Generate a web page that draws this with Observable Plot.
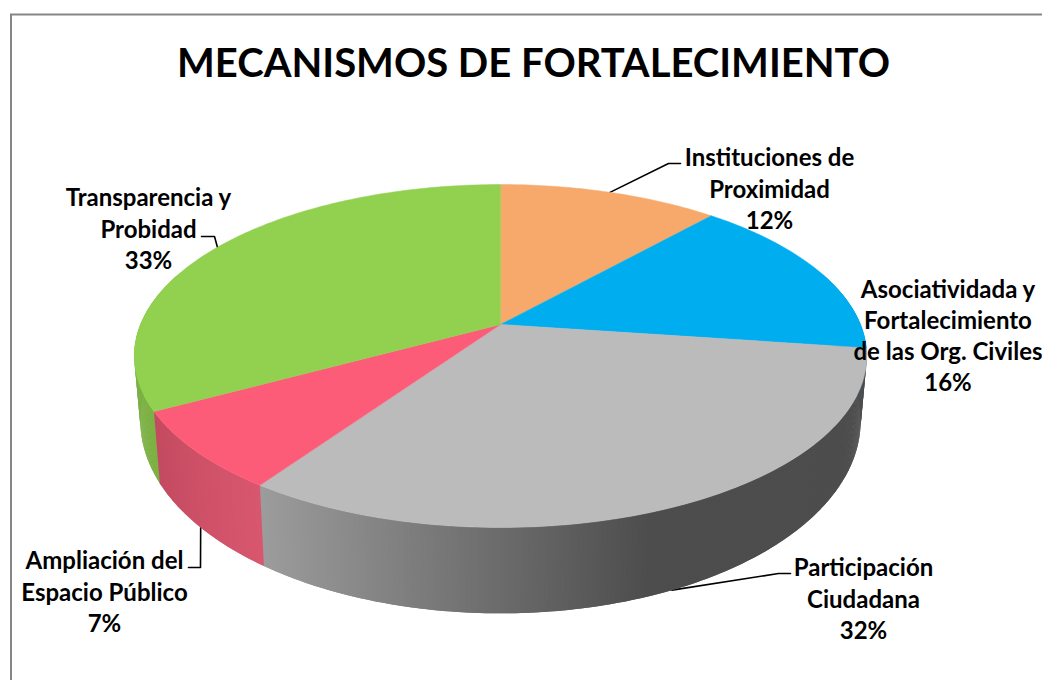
<!DOCTYPE html>
<html lang="es">
<head>
<meta charset="utf-8">
<script src="https://cdn.jsdelivr.net/npm/d3@7"></script>
<script src="https://cdn.jsdelivr.net/npm/@observablehq/plot@0.6"></script>
<style>html,body{margin:0;padding:0;background:#fff;overflow:hidden}svg{display:block}</style>
</head>
<body>
<div id="chart"></div>
<script>
// Data
const categories = ["Instituciones de\nProximidad", "Asociatividada y\nFortalecimiento\nde las Org. Civiles", "Participación\nCiudadana", "Ampliación del\nEspacio Público", "Transparencia y\nProbidad"];
const shares = [11.6, 15.6, 32.4, 7.45, 32.95];
const title = "MECANISMOS DE FORTALECIMIENTO";

// Styles
const topColors = ["#F6A96B", "#00AEEF", "#BBBBBB", "#FD5C78", "#92D050"];
const sideColors = [["#D99560", "#D99560"], ["#0090C8", "#0090C8"], ["#9C9C9C", "#4D4D4D"], ["#D8576F", "#C24A60"], ["#7CB044", "#7CB044"]];
// Layout of the labels: centre x, middle y, elbow x, elbow y, end x
const labelX = [769, 947.5, 863, 104, 148];
const labelY = [187, 334, 597, 590, 227];
const elbowX = [668, null, 778, 200, 214];
const elbowY = [163, null, 573, 567, 236];
const endX = [680, null, 790, 188, 201];
const fontFamily = "Lato, 'Open Sans', sans-serif";

// Perspective of the disc: top and bottom faces
const P = {cx: 500, k: 0.1837};
const topFace = {b: 360, a: 165.7, c: 324};
const botFace = {b: 354, a: 186, c: 385};
const project = (pct, r, f) => {
  const t = pct / 100 * 2 * Math.PI;
  const px = r * Math.sin(t), py = r * Math.cos(t), den = 1 + P.k * py;
  return {x: P.cx + f.b * px / den, y: f.c - f.a * py / den};
};

const cum = d3.cumsum(shares);
const starts = shares.map((_, i) => i ? cum[i - 1] : 0);

// Side strips (front half only, the top face hides the rest); each overlaps the next so no seams show
const strips = [];
shares.forEach((v, i) => {
  const n = Math.ceil(v / 0.1);
  for (let j = 0; j < n; j++) {
    const p0 = starts[i] + v * j / n, p1 = starts[i] + v * (j + 2) / n;
    if (p1 < 20 || p0 > 80) continue;
    const a = project(p0, 1, topFace), b = project(p1, 1, topFace), c = project(p1, 1, botFace), d = project(p0, 1, botFace);
    let t;
    if (i === 2) t = 1 - Math.min(1, Math.max(0, (650 - a.x) / (650 - 262)));
    else t = j / n;
    const color = d3.interpolateRgb(sideColors[i][0], sideColors[i][1])(t);
    for (const q of [a, b, c, d]) strips.push({id: `s${i}-${j}`, x: q.x, y: q.y, color});
  }
});

// Top face
const wedges = [];
shares.forEach((v, i) => {
  const n = Math.ceil(v / 0.25);
  const rim = d3.range(n + 1).map(j => project(starts[i] + v * j / n, 1, topFace));
  const c = project(0, 0, topFace);
  for (const q of [c, ...rim, c]) wedges.push({id: `t${i}`, x: q.x, y: q.y, color: topColors[i]});
});

// Leader lines, starting on the rim at the middle of each slice
const leaders = [];
shares.forEach((v, i) => {
  if (elbowX[i] == null) return;
  const mid = starts[i] + v / 2;
  const s = project(mid, 1, (mid > 25 && mid < 75) ? botFace : topFace);
  for (const q of [s, {x: elbowX[i], y: elbowY[i]}, {x: endX[i], y: elbowY[i]}]) leaders.push({id: i, x: q.x, y: q.y});
});

const labels = categories.map((c, i) => ({text: `${c}\n${Math.round(shares[i])}%`, x: labelX[i], y: labelY[i]}));

const chart = Plot.plot({
  width: 1042, height: 680, margin: 0,
  x: {domain: [0, 1042], range: [0, 1042], axis: null},
  y: {domain: [0, 680], range: [0, 680], axis: null},
  color: {type: "identity"},
  style: {background: "#fff", fontFamily},
  marks: [
    Plot.frame({stroke: "#868686", strokeWidth: 2, insetLeft: 10.5, insetTop: 14, insetRight: -6, insetBottom: -6}),
    Plot.line(leaders, {x: "x", y: "y", z: "id", stroke: "#000", strokeWidth: 1.6, curve: "linear"}),
    Plot.line(strips, {x: "x", y: "y", z: "id", fill: "color", stroke: "none", curve: "linear"}),
    Plot.line(wedges, {x: "x", y: "y", z: "id", fill: "color", stroke: "color", strokeWidth: 0.5, curve: "linear"}),
    Plot.text([title], {x: () => 533, y: () => 63.5, text: d => d, fontSize: 40, fontWeight: 700, fill: "#000", fontFamily}),
    Plot.text(labels, {x: "x", y: "y", text: "text", fontSize: 24, lineHeight: 1.304, fontWeight: 700, fill: "#000", fontFamily})
  ]
});
document.getElementById("chart").append(chart);
</script>
</body>
</html>
